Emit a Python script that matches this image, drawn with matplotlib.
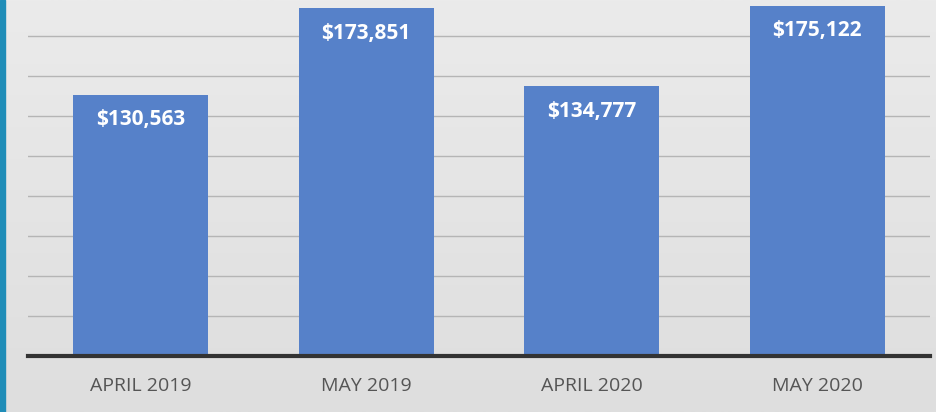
import numpy as np
import matplotlib
matplotlib.use('Agg')
import matplotlib.pyplot as plt

months = ['APRIL 2019', 'MAY 2019', 'APRIL 2020', 'MAY 2020']
sales = [130563, 173851, 134777, 175122]
grid_ticks = [20000, 40000, 60000, 80000, 100000, 120000, 140000, 160000]

fig = plt.figure(figsize=(9.37, 4.12), dpi=100)

# soft gray gradient behind everything
bg = fig.add_axes([0, 0, 1, 1], zorder=-10)
grad = np.linspace(0, 1, 256).reshape(-1, 1)
bg.imshow(grad, aspect='auto', cmap=matplotlib.colors.LinearSegmentedColormap.from_list(
    'bg', ['#ebebeb', '#dedede']), extent=[0, 1, 0, 1])
bg.axvspan(0, 5 / 937, color='#1f8db8')
bg.set_xlim(0, 1)
bg.set_ylim(0, 1)
bg.axis('off')

ax = fig.add_axes([28 / 937, 56 / 412, 902 / 937, 356 / 412])
ax.patch.set_alpha(0)

x = np.arange(len(months))
bars = ax.bar(x, sales, width=0.6, color='#5681c9', zorder=3)

for t in grid_ticks:
    ax.axhline(t, color='#b5b5b5', lw=1, zorder=1)

ax.set_xlim(-0.5, 3.5)
ax.set_ylim(0, 178000)
ax.set_yticks([])
ax.set_xticks(x)
ax.set_xticklabels(months, fontsize=14, color='#555555', family='Open Sans')
ax.tick_params(axis='x', length=0, pad=15)

for s in ['top', 'right', 'left']:
    ax.spines[s].set_visible(False)
ax.spines['bottom'].set_color('#333333')
ax.spines['bottom'].set_linewidth(3)
ax.spines['bottom'].set_zorder(4)

for b, v in zip(bars, sales):
    ax.annotate('${:,}'.format(v), (b.get_x() + b.get_width() / 2, v),
                xytext=(0, -25), textcoords='offset pixels',
                ha='center', va='center', color='white', fontsize=15,
                fontweight='bold', family='Open Sans', zorder=5)

fig.savefig('out.png', dpi=100)
